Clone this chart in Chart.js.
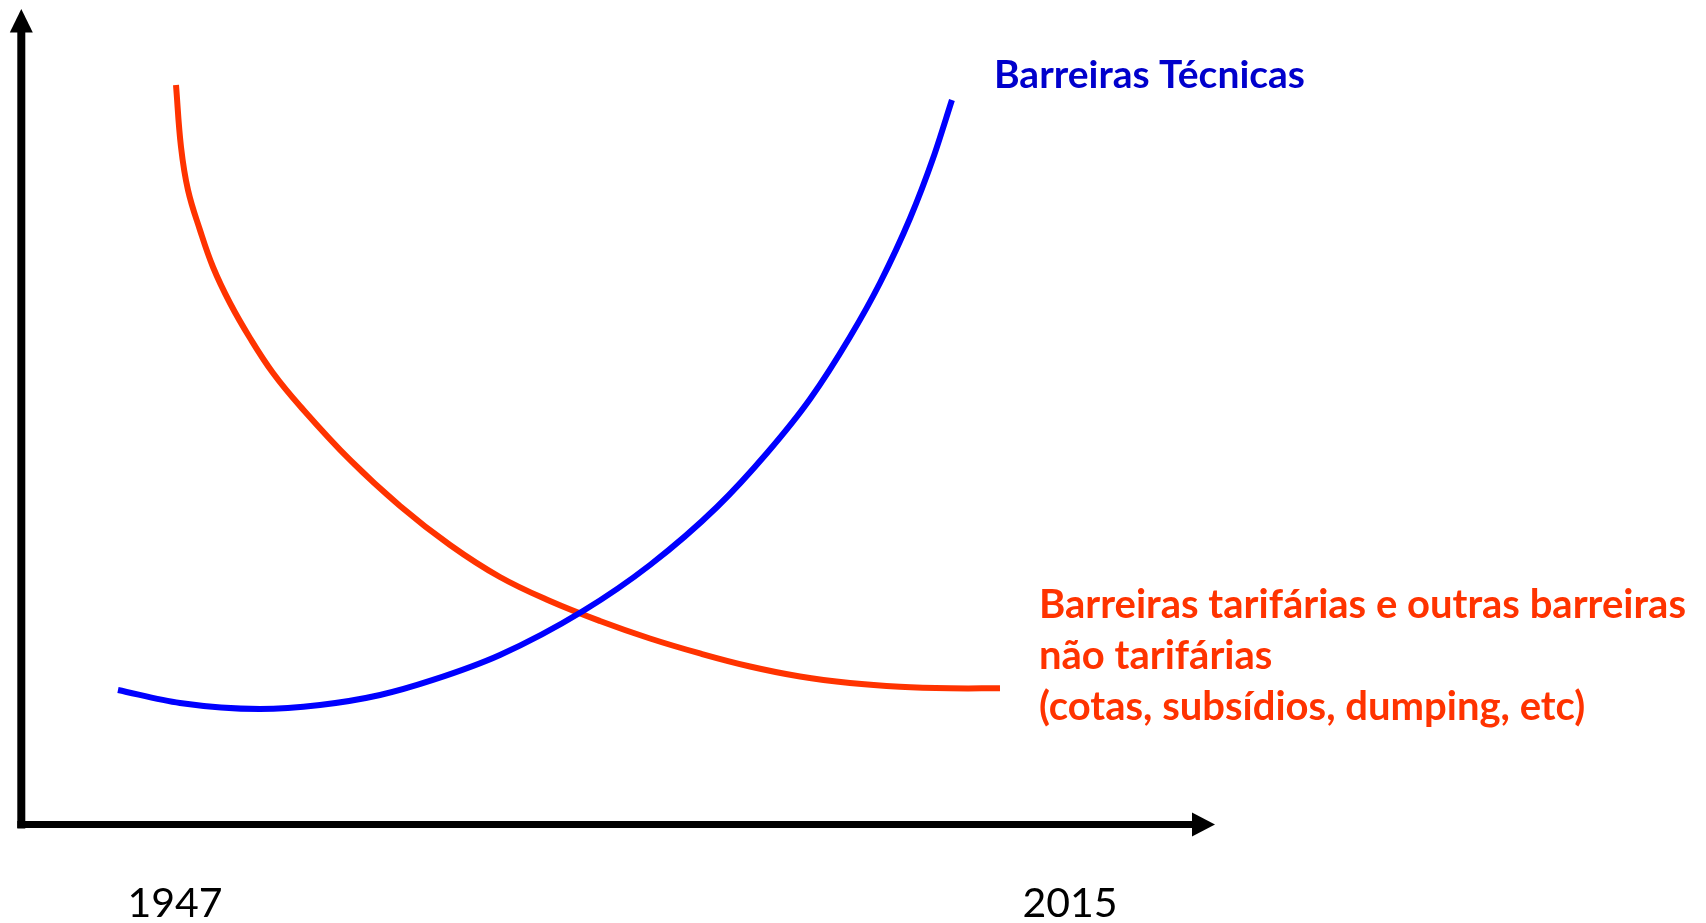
<!DOCTYPE html>
<html>
<head>
<meta charset="utf-8">
<title>Barreiras comerciais 1947 - 2015</title>
<script src="https://cdn.jsdelivr.net/npm/chart.js@4.4.1/dist/chart.umd.min.js"></script>
<style>
  html, body { margin: 0; padding: 0; background: #fff; }
  #wrap { width: 1706px; height: 923px; }
</style>
</head>
<body>
<div id="wrap"><canvas id="barrierChart" width="1706" height="923"></canvas></div>
<script>
// only the two ends of the time axis carry a label
const yearTicks = [1947, 2015];

const technicalYears = [1942.67, 1947.38, 1953.46, 1958.02, 1962.58, 1966.60, 1971.69, 1978.00, 1983.09, 1988.18, 1991.98, 1995.25, 1998.28, 2000.56, 2002.84, 2004.59, 2006.03];
const technicalLevel = [16.88, 15.25, 14.5, 15.0, 16.25, 18.13, 21.25, 26.75, 32.5, 39.75, 46.5, 53.25, 61.0, 67.75, 75.81, 83.31, 90.63];

// Barreiras tarifárias (red)
const tariffYears = [1947.08, 1947.46, 1947.99, 1948.90, 1949.89, 1951.18, 1952.70, 1954.45, 1956.50, 1960.30, 1964.10, 1967.90, 1971.69, 1975.49, 1979.29, 1983.09, 1986.89, 1990.69, 1994.49, 1998.28, 2002.08, 2005.88, 2009.68];
const tariffLevel = [92.5, 84.75, 79.38, 74.38, 69.75, 65.25, 60.88, 56.5, 52.38, 45.63, 39.88, 35.0, 31.0, 28.0, 25.5, 23.31, 21.44, 19.81, 18.56, 17.75, 17.28, 17.09, 17.09];

const technicalLabel = ['Barreiras Técnicas'];
const tariffLabel = [
    'Barreiras tarifárias e outras barreiras',
    'não tarifárias',
    '(cotas, subsídios, dumping, etc)'
];

const BLUE = '#0000ff';
const BLUE_TEXT = '#0000cc';
const RED = '#ff3300';

function toPoints(xs, ys) {
    return xs.map((x, i) => ({ x: x, y: ys[i] }));
}

// Calibri is narrower than Lato: keep the height, squeeze the width
function drawSqueezed(ctx, lines, x, y0, step, size, width, color) {
    ctx.font = `bold ${size}px Lato`;
    const sx = width / ctx.measureText(lines[0]).width;
    ctx.fillStyle = color;
    lines.forEach((line, i) => {
        ctx.save();
        ctx.translate(x, y0 + i * step);
        ctx.scale(sx, 1);
        ctx.fillText(line, 0, 0);
        ctx.restore();
    });
}

// axes with arrow heads, drawn like the slide
const arrowAxes = {
    id: 'arrowAxes',
    beforeDatasetsDraw(chart) {
        const { ctx, chartArea } = chart;
        const ax = chartArea.left + 4.3;
        const ay = chartArea.bottom - 0.5;
        ctx.save();
        ctx.fillStyle = '#000';
        ctx.strokeStyle = '#000';
        ctx.lineCap = 'butt';

        // y axis
        ctx.lineWidth = 8;
        ctx.beginPath();
        ctx.moveTo(ax, ay + 4);
        ctx.lineTo(ax, 32);
        ctx.stroke();
        ctx.beginPath();
        ctx.moveTo(ax, 9);
        ctx.lineTo(ax - 11.5, 32.5);
        ctx.lineTo(ax + 11.5, 32.5);
        ctx.closePath();
        ctx.fill();

        // x axis
        ctx.lineWidth = 7;
        ctx.beginPath();
        ctx.moveTo(ax - 4, ay);
        ctx.lineTo(1193, ay);
        ctx.stroke();
        ctx.beginPath();
        ctx.moveTo(1215, ay);
        ctx.lineTo(1192, ay - 12);
        ctx.lineTo(1192, ay + 12);
        ctx.closePath();
        ctx.fill();
        ctx.restore();
    }
};

const curveLabels = {
    id: 'curveLabels',
    afterDatasetsDraw(chart) {
        const ctx = chart.ctx;
        ctx.save();
        ctx.textAlign = 'left';
        ctx.textBaseline = 'alphabetic';
        drawSqueezed(ctx, technicalLabel, 994, 88, 0, 38, 311, BLUE_TEXT);
        drawSqueezed(ctx, tariffLabel, 1039, 618, 51, 41, 647, RED);
        ctx.restore();
    }
};

const ctx = document.getElementById('barrierChart').getContext('2d');
new Chart(ctx, {
    type: 'line',
    data: {
        datasets: [
            {
                label: 'Barreiras Técnicas',
                data: toPoints(technicalYears, technicalLevel),
                borderColor: BLUE,
                borderWidth: 6,
                pointRadius: 0,
                cubicInterpolationMode: 'monotone',
                clip: false
            },
            {
                label: 'Barreiras tarifárias e outras barreiras não tarifárias',
                data: toPoints(tariffYears, tariffLevel),
                borderColor: RED,
                borderWidth: 6,
                pointRadius: 0,
                tension: 0.4,
                clip: false
            }
        ]
    },
    options: {
        responsive: false,
        animation: false,
        events: [],
        layout: { padding: { left: 17, right: 491.2, top: 9, bottom: 0 } },
        scales: {
            x: {
                type: 'linear',
                min: 1935,
                max: 2026,
                afterFit: (s) => { s.height = 98; },
                afterBuildTicks: (s) => { s.ticks = yearTicks.map(v => ({ value: v })); },
                grid: { display: false, drawTicks: false },
                border: { display: false },
                ticks: {
                    autoSkip: false,
                    maxRotation: 0,
                    padding: 54,
                    color: '#000',
                    font: { family: 'Lato', size: 41 },
                    callback: (v) => String(v)
                }
            },
            y: {
                display: false,
                min: 0,
                max: 102
            }
        },
        plugins: {
            legend: { display: false },
            tooltip: { enabled: false }
        }
    },
    plugins: [arrowAxes, curveLabels]
});
</script>
</body>
</html>
